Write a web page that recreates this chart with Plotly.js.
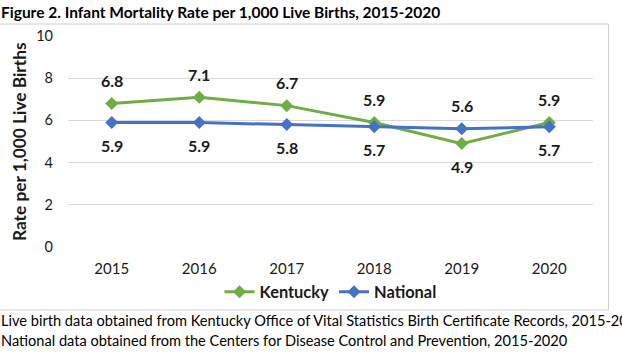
<!DOCTYPE html>
<html>
<head>
<meta charset="utf-8">
<script src="https://cdn.plot.ly/plotly-3.0.1.min.js"></script>
<style>html,body{margin:0;padding:0;background:#fff;}#chart{width:622px;height:352px;}</style>
</head>
<body>
<div id="chart"></div>
<script>
const years = ["2015", "2016", "2017", "2018", "2019", "2020"];
const kentucky = [6.8, 7.1, 6.7, 5.9, 4.9, 5.9];
const national = [5.9, 5.9, 5.8, 5.7, 5.6, 5.7];
const kentuckyLabelSide = ["above", "above", "above", "above", "below", "above"];
const nationalLabelSide = ["below", "below", "below", "below", "above", "below"];
const titleText = "Figure 2. Infant Mortality Rate per 1,000 Live Births, 2015-2020";
const yTitleText = "Rate per 1,000 Live Births";
const footnotes = [
  "Live birth data obtained from Kentucky Office of Vital Statistics Birth Certificate Records, 2015-2020",
  "National data obtained from the Centers for Disease Control and Prevention, 2015-2020"
];

const FONT = "Lato, Carlito, Calibri, 'Open Sans', sans-serif";
const green = "#70AD47", blue = "#4472C4";

const W = 622, H = 352;
const M = {l: 68, r: 29, t: 36, b: 105};
const pw = W - M.l - M.r, ph = H - M.t - M.b;
const px = x => (x - M.l) / pw;
const py = y => (H - M.b - y) / ph;

function labels(vals, sides) {
  return vals.map((v, i) => ({
    x: i, y: v, xref: "x", yref: "y",
    text: "<b>" + v.toFixed(1) + "</b>",
    showarrow: false,
    yshift: sides[i] === "above" ? 23 : -23,
    font: {family: FONT, size: 16, color: "#1a1a1a"}
  }));
}

const traces = [
  {x: years, y: kentucky, name: "Kentucky", type: "scatter", mode: "lines+markers",
   line: {color: green, width: 3}, marker: {symbol: "diamond", size: 10, color: green}},
  {x: years, y: national, name: "National", type: "scatter", mode: "lines+markers",
   line: {color: blue, width: 3}, marker: {symbol: "diamond", size: 10, color: blue}}
];

const annotations = [
  ...labels(kentucky, kentuckyLabelSide),
  ...labels(national, nationalLabelSide),
  {xref: "paper", yref: "paper", x: px(-1), y: py(12), xanchor: "left", yanchor: "middle",
   text: "<b>" + titleText + "</b>", showarrow: false,
   font: {family: FONT, size: 15.5, color: "#000"}},
  {xref: "paper", yref: "paper", x: px(19), y: py(142), xanchor: "center", yanchor: "middle",
   text: "<b>" + yTitleText + "</b>", textangle: -90, showarrow: false,
   font: {family: FONT, size: 17.3, color: "#1a1a1a"}},
  {xref: "paper", yref: "paper", x: px(-1), y: py(320), xanchor: "left", yanchor: "middle",
   text: footnotes[0], showarrow: false, font: {family: FONT, size: 14.6, color: "#000"}},
  {xref: "paper", yref: "paper", x: px(-1), y: py(340), xanchor: "left", yanchor: "middle",
   text: footnotes[1], showarrow: false, font: {family: FONT, size: 14.6, color: "#000"}}
];

const layout = {
  width: W, height: H,
  margin: M,
  paper_bgcolor: "#fff", plot_bgcolor: "#fff",
  showlegend: true,
  legend: {orientation: "h", x: 0.5, xanchor: "center", y: py(292), yanchor: "middle",
    bgcolor: "rgba(0,0,0,0)",
    font: {family: FONT, size: 16.4, color: "#1a1a1a", weight: "bold"},
    itemwidth: 30, tracegroupgap: 0},
  xaxis: {type: "category", range: [-0.5, 5.5], showgrid: false, zeroline: false,
    showline: false, ticks: "", ticklabelstandoff: 11,
    tickfont: {family: FONT, size: 15, color: "#1a1a1a"}, fixedrange: true},
  yaxis: {range: [0, 10], dtick: 2, showgrid: true, gridcolor: "#d9d9d9", gridwidth: 1,
    zeroline: false, showline: false, ticks: "", ticklabelstandoff: 14,
    tickfont: {family: FONT, size: 14.5, color: "#1a1a1a"}, fixedrange: true},
  annotations: annotations,
  shapes: [
    {type: "rect", xref: "paper", yref: "paper", x0: px(-2), x1: px(608.5), y0: py(24), y1: py(310),
     line: {color: "#d0d0d0", width: 1}, fillcolor: "rgba(0,0,0,0)", layer: "below"}
  ]
};

Plotly.newPlot("chart", traces, layout, {displayModeBar: false, staticPlot: true});
</script>
</body>
</html>
